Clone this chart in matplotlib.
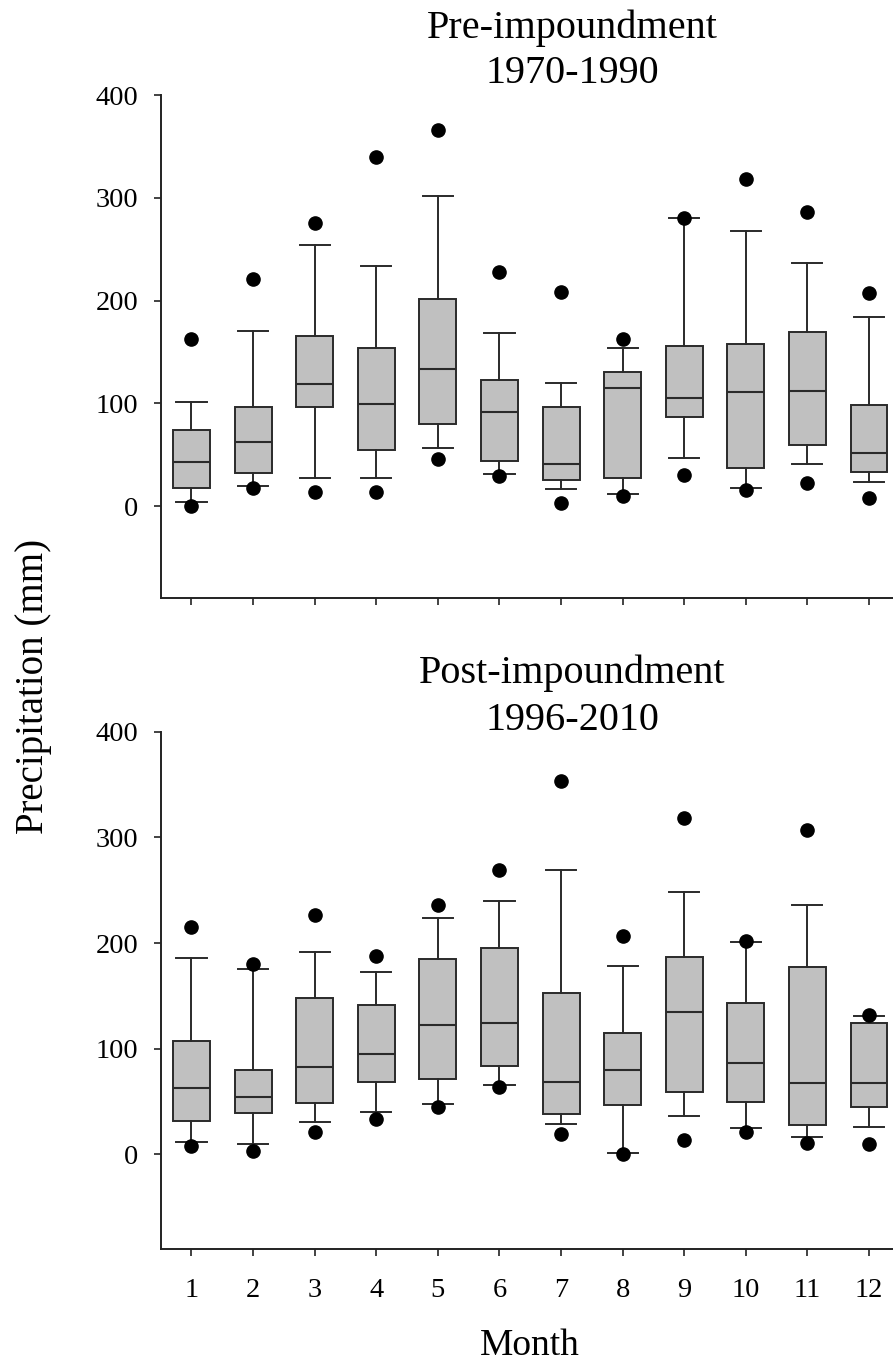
import matplotlib
matplotlib.use("Agg")
import matplotlib.pyplot as plt

plt.rcParams['font.family'] = ['Liberation Serif', 'DejaVu Serif']

months = list(range(1, 13))
month_labels = [str(m) for m in months]

# Pre-impoundment 1970-1990
pre_p5 = [0, 17.5, 13.8, 13.8, 46, 29, 3.3, 9.6, 30.6, 15.2, 22, 7.9]
pre_p10 = [4, 19.8, 27, 27, 57, 31, 17, 12.2, 47, 17.4, 40.5, 23]
pre_q1 = [17.8, 32, 96.5, 54.3, 80, 44, 25.3, 27, 86.3, 36.9, 59.3, 33.6]
pre_med = [42.5, 62.6, 119, 99.5, 133.4, 91.2, 41, 115.3, 105.4, 111, 112.3, 51.7]
pre_q3 = [74, 96, 165.7, 153.8, 201.6, 122.9, 96.5, 131, 155.5, 158, 169.6, 98.5]
pre_p90 = [101, 170.6, 254, 233.9, 301.7, 168.6, 120, 153.8, 280, 267.4, 236.8, 184]
pre_p95 = [163, 221, 275.7, 340, 366, 227.6, 208.5, 162.4, 280, 318.5, 286.6, 207]

# Post-impoundment 1996-2010
post_p5 = [7.4, 3, 20.6, 33.8, 44.3, 63.3, 19, 0, 13.5, 21.3, 10.5, 9.5]
post_p10 = [11.2, 9.8, 30.1, 39.9, 48, 65.3, 29, 1.4, 36.2, 25, 16.2, 26]
post_q1 = [31.5, 38.9, 48.7, 68.3, 71, 83.6, 38.2, 47, 58.9, 49.4, 27.4, 45]
post_med = [63, 54.5, 82.9, 95.1, 122.8, 124.2, 68.7, 80.2, 134.7, 86.3, 67, 67.3]
post_q3 = [107.6, 80.2, 147.5, 141, 184.8, 195, 152.3, 115, 186.8, 142.8, 177.3, 123.9]
post_p90 = [185.5, 175.6, 191.9, 172.9, 224, 240, 268.7, 178.4, 248.4, 201.4, 235.9, 130.6]
post_p95 = [215, 180.4, 227, 187.5, 236, 269, 353, 206.8, 318.8, 202, 307.3, 132.3]

yticks = [0, 100, 200, 300, 400]

W, H = 893, 1362
fig = plt.figure(figsize=(W / 100, H / 100), dpi=100)


def make_stats(p5, p10, q1, med, q3, p90, p95):
    stats = []
    for i in range(len(med)):
        stats.append(dict(med=med[i], q1=q1[i], q3=q3[i], whislo=p10[i],
                          whishi=p90[i], fliers=[p5[i], p95[i]]))
    return stats


def draw(ax, stats, show_xlabels):
    edge = '#2a2a2a'
    ax.bxp(stats, positions=months, widths=0.6, capwidths=0.49,
           patch_artist=True, manage_ticks=False,
           boxprops=dict(facecolor='#c0c0c0', edgecolor=edge, linewidth=1.4),
           medianprops=dict(color=edge, linewidth=1.5),
           whiskerprops=dict(color=edge, linewidth=1.4),
           capprops=dict(color=edge, linewidth=1.4),
           flierprops=dict(marker='o', markerfacecolor='black',
                           markeredgecolor='black', markersize=9.5,
                           linestyle='none'))
    ax.set_xlim(0.5, 12.39)
    ax.set_ylim(-90, 400)
    ax.set_yticks(yticks)
    ax.set_yticklabels([str(v) for v in yticks])
    ax.set_xticks(months)
    if show_xlabels:
        ax.set_xticklabels(month_labels)
    else:
        ax.set_xticklabels([])
    for s in ['top', 'right']:
        ax.spines[s].set_visible(False)
    for s in ['left', 'bottom']:
        ax.spines[s].set_linewidth(1.4)
        ax.spines[s].set_color('#222222')
    ax.tick_params(direction='out', length=5, width=1.2, colors='#222222',
                   labelsize=20.5, labelcolor='black')
    ax.tick_params(axis='y', pad=11)
    ax.tick_params(axis='x', pad=16)


def fy(px):
    return 1 - px / H


ax1 = fig.add_axes([160.7 / W, fy(598.5), 1 - 160.7 / W, fy(95.2) - fy(598.5)])
draw(ax1, make_stats(pre_p5, pre_p10, pre_q1, pre_med, pre_q3, pre_p90, pre_p95), False)

ax2 = fig.add_axes([160.7 / W, fy(1249.3), 1 - 160.7 / W, fy(731.8) - fy(1249.3)])
draw(ax2, make_stats(post_p5, post_p10, post_q1, post_med, post_q3, post_p90, post_p95), True)

tsize = 29
fig.text(572 / W, fy(38), 'Pre-impoundment', ha='center', va='baseline', fontsize=tsize)
fig.text(572 / W, fy(83), '1970-1990', ha='center', va='baseline', fontsize=tsize)
fig.text(572 / W, fy(683), 'Post-impoundment', ha='center', va='baseline', fontsize=tsize)
fig.text(572 / W, fy(730), '1996-2010', ha='center', va='baseline', fontsize=tsize)
fig.text(530 / W, fy(1355), 'Month', ha='center', va='baseline', fontsize=27)
fig.text(34 / W, fy(686), 'Precipitation (mm)', ha='center', va='center',
         rotation=90, fontsize=28)

fig.savefig('out.png', dpi=100)
